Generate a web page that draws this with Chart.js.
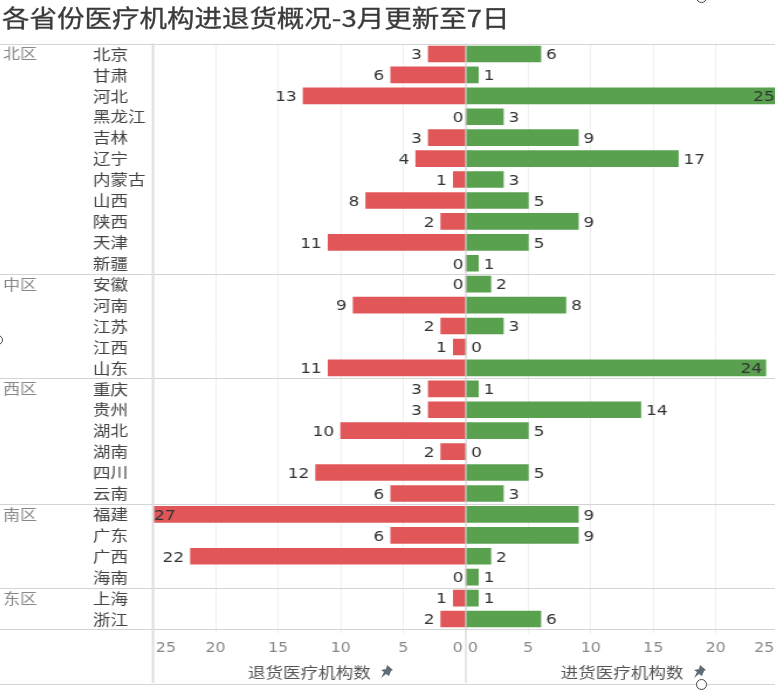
<!DOCTYPE html>
<html lang="zh">
<head>
<meta charset="utf-8">
<script src="https://cdn.jsdelivr.net/npm/chart.js@4"></script>
<style>
html,body{margin:0;padding:0;width:775px;height:696px;overflow:hidden;background:#fff}
#wrap{position:absolute;left:-0.7px;top:0;width:667px;height:696px;transform:scaleX(1.17);transform-origin:0 0}
#title{position:absolute;left:2.5px;top:0px;font:23.5px/34px "Noto Sans CJK SC",sans-serif;color:#3a3a3a;white-space:nowrap;-webkit-text-stroke:.3px #3a3a3a}
canvas{position:absolute;top:40px}
#cl{left:0}
#cr{left:399px}
.h{position:absolute;border:1.5px solid #444;border-radius:50%;background:#fff;box-sizing:border-box}
svg{position:absolute}
</style>
</head>
<body>
<div id="wrap">
  <div id="title">各省份医疗机构进退货概况-3月更新至7日</div>
  <canvas id="cl" width="399" height="656"></canvas>
  <canvas id="cr" width="268" height="656"></canvas>
</div>
<div class="h" style="left:696px;top:679px;width:11px;height:11px"></div>
<div class="h" style="left:696px;top:-8px;width:11px;height:11px"></div>
<div class="h" style="left:-7px;top:335px;width:10px;height:10px"></div>
<svg style="left:378px;top:664px" width="16" height="16" viewBox="0 0 16 16"><path d="M9 1l6 5-2 1-2 5-3-2-5 4 3-6-3-2 5-1z" fill="#5f6b75"/></svg>
<svg style="left:691px;top:664px" width="16" height="16" viewBox="0 0 16 16"><path d="M9 1l6 5-2 1-2 5-3-2-5 4 3-6-3-2 5-1z" fill="#5f6b75"/></svg>
<script>
const provinces = ['北京','甘肃','河北','黑龙江','吉林','辽宁','内蒙古','山西','陕西','天津','新疆','安徽','河南','江苏','江西','山东','重庆','贵州','湖北','湖南','四川','云南','福建','广东','广西','海南','上海','浙江'];
const regionTicks = ['北区','','','','','','','','','','','中区','','','','','西区','','','','','','南区','','','','东区',''];
const returnCounts = [3,6,13,0,3,4,1,8,2,11,0,0,9,2,1,11,3,3,10,2,12,6,27,6,22,0,1,2];
const inboundCounts = [6,1,25,3,9,17,3,5,9,5,1,2,8,3,0,24,1,14,5,0,5,3,9,9,2,1,1,6];
const returnTitle = '退货医疗机构数';
const inboundTitle = '进货医疗机构数';

const S = 1.17;
const NUM = '"DejaVu Sans",sans-serif';
const CJK = '"Noto Sans CJK SC",sans-serif';
const groupEdges = regionTicks.map((r,i)=>r?i:-1).filter(i=>i>=0).concat([provinces.length]);

function decor(title){
  return {
    id:'decor',
    afterDatasetsDraw(chart){
      const ctx = chart.ctx, a = chart.chartArea, x = chart.scales.x, y = chart.scales.y;
      const rev = x.options.reverse;
      const step = (y.getPixelForValue(1)-y.getPixelForValue(0));
      ctx.save();
      // region separators across the full width
      ctx.strokeStyle = '#d4d4d4'; ctx.lineWidth = 1;
      groupEdges.forEach(i=>{
        const p = Math.round(y.getPixelForValue(0)+step*(i-0.5))+0.5;
        ctx.beginPath(); ctx.moveTo(0,p); ctx.lineTo(chart.width,p); ctx.stroke();
      });
      // zero line and pane edge
      const z = x.getPixelForValue(0);
      ctx.strokeStyle = '#cfcfcf'; ctx.lineWidth = 1;
      ctx.beginPath(); ctx.moveTo(z,a.top); ctx.lineTo(z,chart.height-13); ctx.stroke();
      if (rev){
        const e = x.getPixelForValue(25);
        ctx.strokeStyle = '#dedede'; ctx.lineWidth = 2;
        ctx.beginPath(); ctx.moveTo(e,a.top); ctx.lineTo(e,chart.height-13); ctx.stroke();
      }
      // bottom rule
      ctx.strokeStyle = '#d4d4d4'; ctx.lineWidth = 1;
      ctx.beginPath(); ctx.moveTo(0,chart.height-11.5); ctx.lineTo(chart.width,chart.height-11.5); ctx.stroke();
      // tick labels, the two end ones pulled inward
      ctx.font = '13.5px '+NUM; ctx.fillStyle = '#888'; ctx.textAlign = 'center'; ctx.textBaseline = 'middle';
      x.ticks.forEach(t=>{
        let px = x.getPixelForValue(t.value);
        if (rev){ if (t.value===25) px += 13/S; if (t.value===0) px -= 8/S; }
        else { if (t.value===0) px += 7/S; if (t.value===25) px -= 14/S; }
        ctx.fillText(String(t.value), px, chart.height-48);
      });
      // value labels
      const meta = chart.getDatasetMeta(0), data = chart.data.datasets[0].data;
      ctx.font = '14.5px '+NUM; ctx.fillStyle = '#333';
      meta.data.forEach((bar,i)=>{
        const v = data[i], w = ctx.measureText(String(v)).width;
        let tx, al;
        if (!rev){
          const g = 4.5;
          if (bar.x+g+w > chart.width-4){ tx = Math.min(bar.x-3, x.getPixelForValue(25)-3); al='right'; }
          else { tx = bar.x+g; al='left'; }
        } else {
          const g = v===0 ? 2 : 5.5;
          if (bar.x-g-w < a.left){ tx = a.left+1; al='left'; }
          else { tx = bar.x-g; al='right'; }
        }
        ctx.textAlign = al;
        ctx.fillText(String(v), tx, bar.y+1.5);
      });
      // axis title
      ctx.font = '15px '+CJK; ctx.fillStyle = '#555'; ctx.textAlign = 'center';
      ctx.fillText(title, (a.left+a.right)/2, chart.height-24);
      ctx.restore();
    }
  };
}

function xAxis(reverse){
  return {
    type:'linear', min:0, max:25, reverse,
    afterFit(s){ s.height = 66.5; s.paddingLeft = 0; s.paddingRight = 0; },
    border:{display:false},
    grid:{color:'#efefef', lineWidth:1, tickLength:4, z:-1, drawOnChartArea:true},
    ticks:{stepSize:5, display:false}
  };
}
const fitY = w => s => { s.width = w; s.paddingTop = 0; s.paddingBottom = 0; };

const left = new Chart(document.getElementById('cl'),{
  type:'bar',
  data:{labels:provinces,datasets:[{data:returnCounts,backgroundColor:'#e15759',barThickness:16,xAxisID:'x',yAxisID:'y'}]},
  options:{
    indexAxis:'y',responsive:false,animation:false,
    plugins:{legend:{display:false},tooltip:{enabled:false}},
    layout:{padding:{left:3.4,top:3.5,right:0,bottom:0}},
    scales:{
      x:xAxis(true),
      y:{type:'category',position:'left',weight:1,offset:true,
        afterFit:fitY(51.3),
        border:{display:false},grid:{display:false,drawTicks:false},
        ticks:{crossAlign:'far',autoSkip:false,padding:0,color:'#444',font:{family:CJK,size:15}}},
      r:{type:'category',labels:regionTicks,position:'left',weight:2,offset:true,
        afterFit:fitY(76.9),
        border:{display:false},grid:{display:false,drawTicks:false},
        ticks:{crossAlign:'far',autoSkip:false,padding:0,color:'#888',font:{family:CJK,size:14.5}}}
    }
  },
  plugins:[decor(returnTitle)]
});

const right = new Chart(document.getElementById('cr'),{
  type:'bar',
  data:{labels:provinces,datasets:[{data:inboundCounts,backgroundColor:'#59a14f',barThickness:16,xAxisID:'x',yAxisID:'y'}]},
  options:{
    indexAxis:'y',responsive:false,animation:false,
    plugins:{legend:{display:false},tooltip:{enabled:false}},
    layout:{padding:{left:0,top:3.5,right:1,bottom:0}},
    scales:{
      x:xAxis(false),
      y:{type:'category',display:false,offset:true}
    }
  },
  plugins:[decor(inboundTitle)]
});
</script>
</body>
</html>
